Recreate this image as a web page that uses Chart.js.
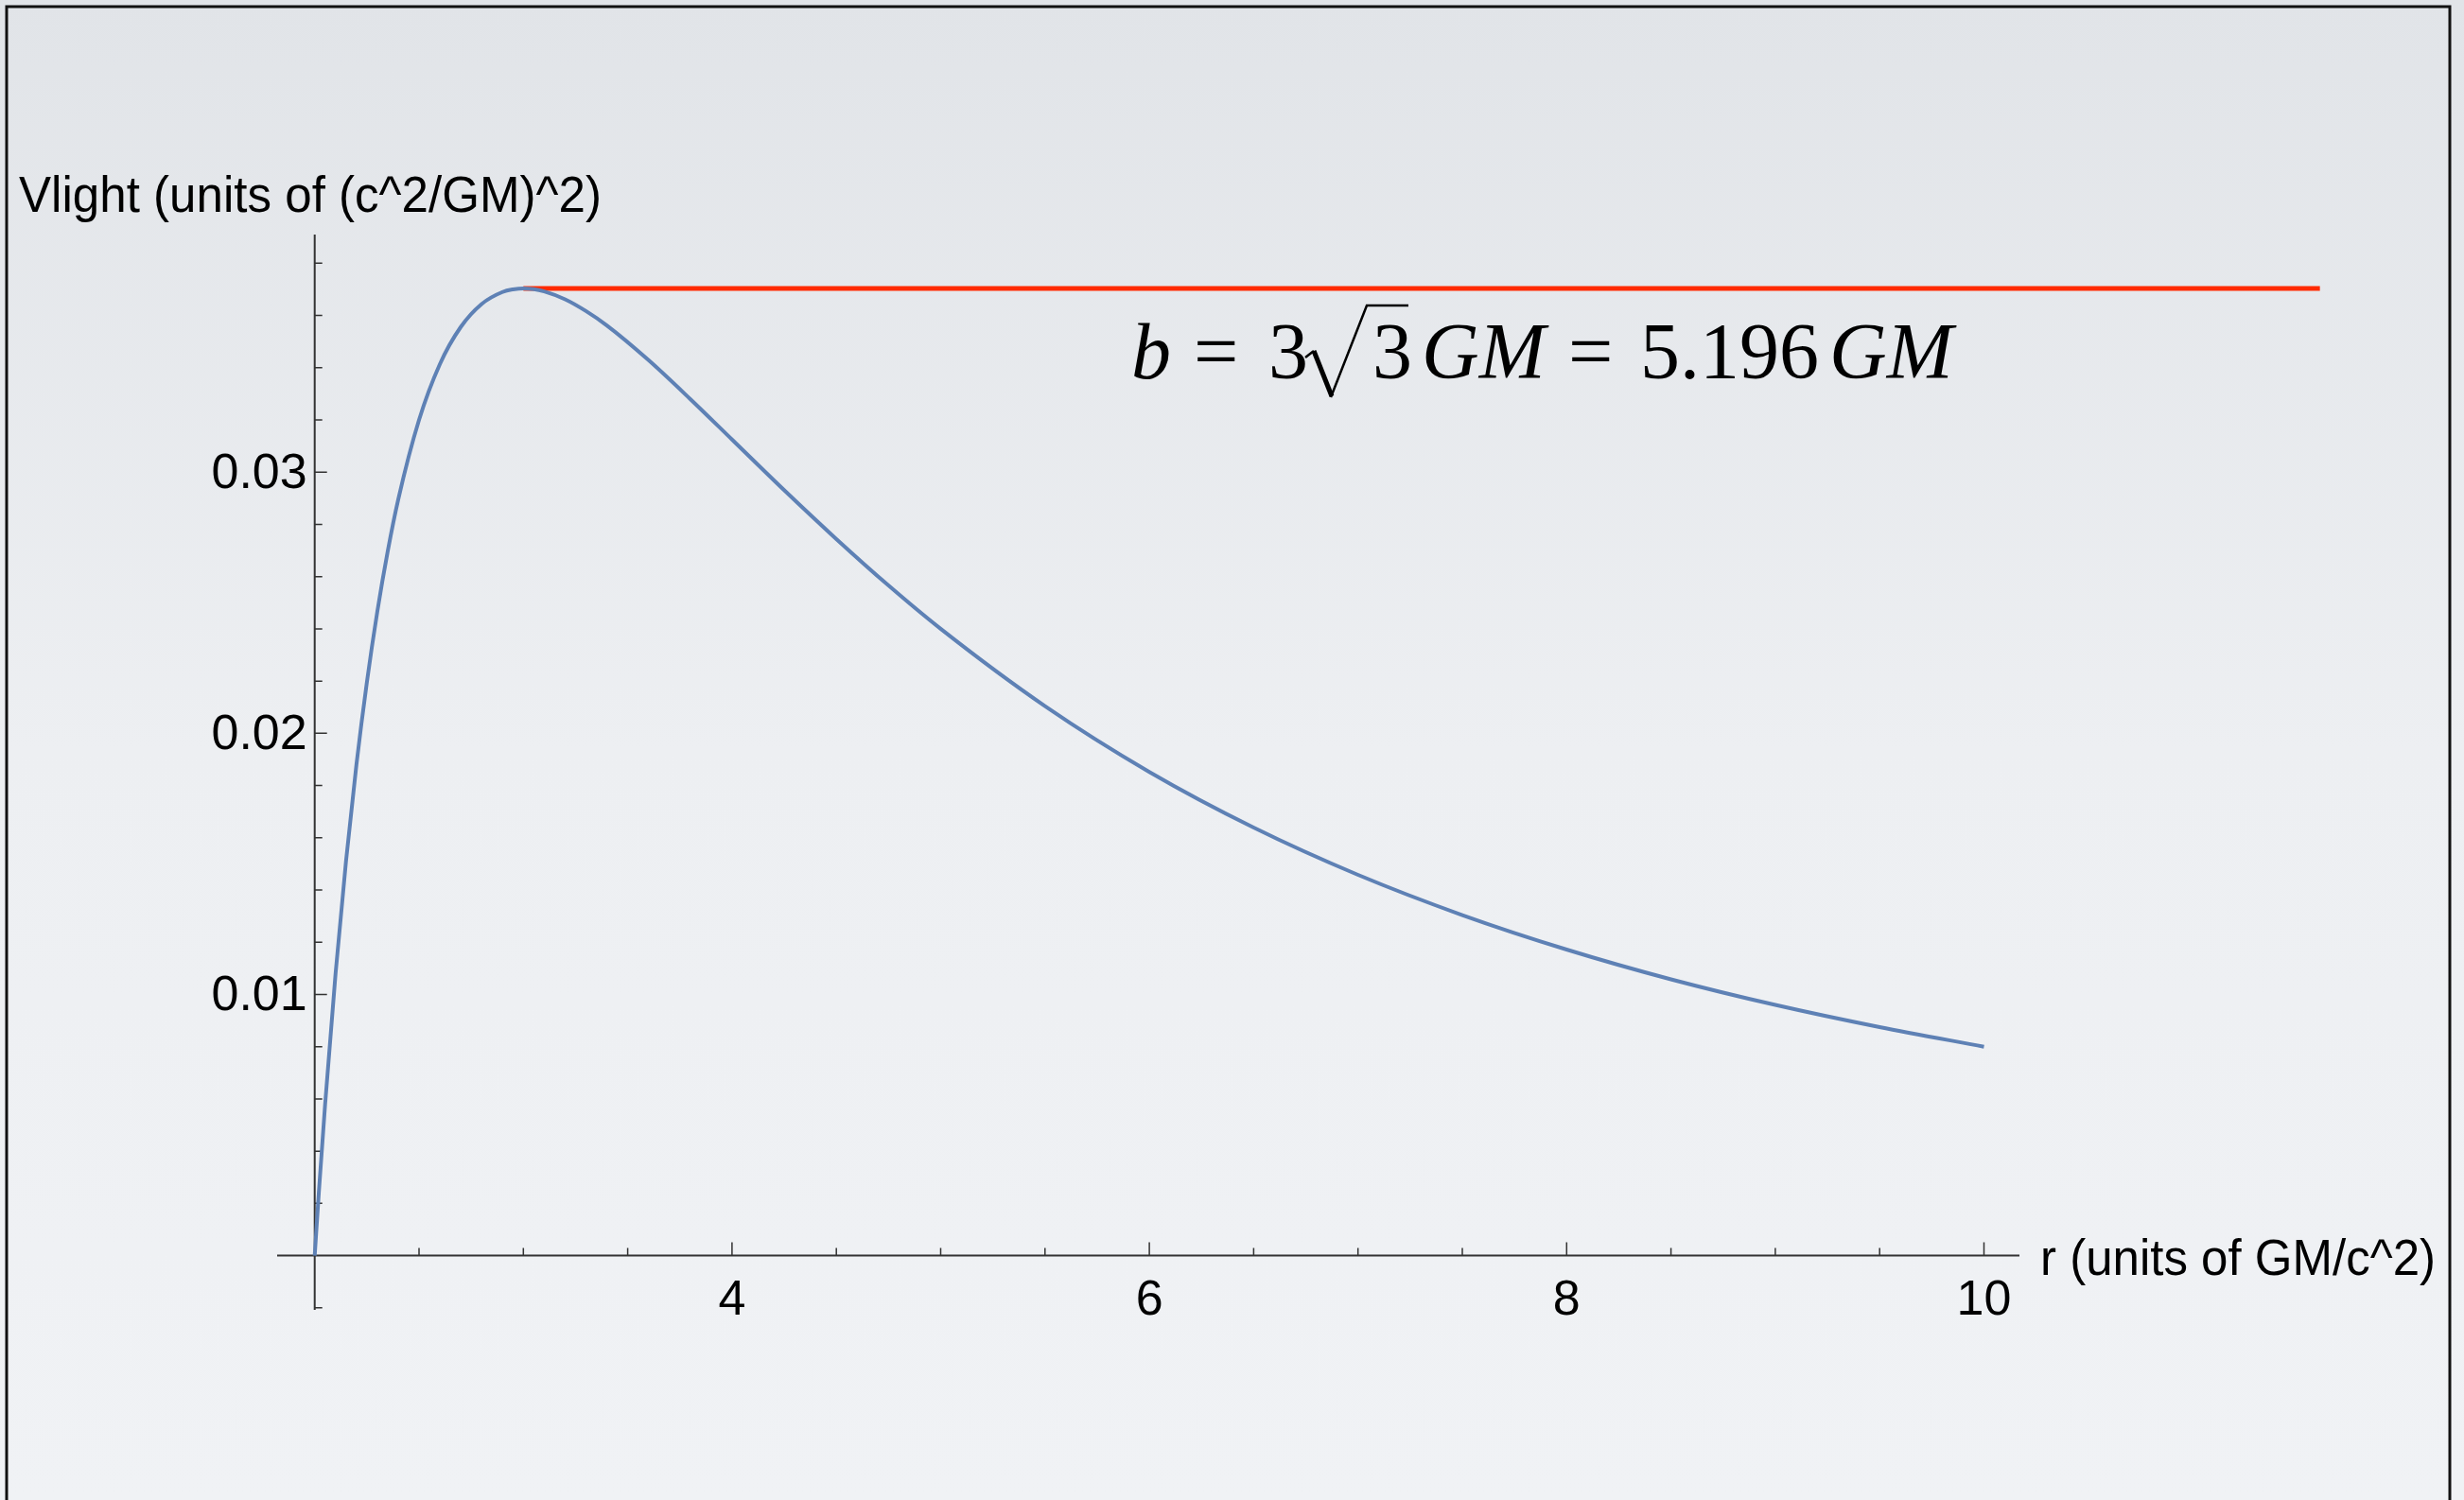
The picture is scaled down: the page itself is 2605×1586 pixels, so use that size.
<!DOCTYPE html>
<html>
<head>
<meta charset="utf-8">
<title>Vlight</title>
<script src="https://cdn.jsdelivr.net/npm/chart.js@4.4.1/dist/chart.umd.min.js"></script>
<style>
  html, body { margin: 0; padding: 0; overflow: hidden; background: #e9ecef; }
  canvas { display: block; }
</style>
</head>
<body>
<canvas id="vlightChart" width="2605" height="1586"></canvas>
<script>
// r values (units of GM/c^2) and Vlight
const rValues = [2.0, 2.02, 2.05, 2.1, 2.15, 2.2, 2.25, 2.3, 2.35, 2.4, 2.5, 2.6, 2.7, 2.8, 2.9, 2.95, 3.0, 3.05, 3.1,
    3.2, 3.3, 3.4, 3.6, 3.8, 4.0, 4.25, 4.5, 4.75, 5.0, 5.5, 6.0, 6.5, 7.0, 7.5, 8.0, 8.5, 9.0, 9.5, 10.0];
const vlightValues = [0, 0.00243, 0.0058, 0.0108, 0.0151, 0.0188, 0.02195, 0.02466, 0.02697, 0.02894, 0.032, 0.03414, 0.03556, 0.03644, 0.0369, 0.03700, 0.03704, 0.03701, 0.03692,
    0.03662, 0.03617, 0.03562, 0.03429, 0.0328, 0.03125, 0.02931, 0.02744, 0.02566, 0.024, 0.02104, 0.01852, 0.01639, 0.01458, 0.01304, 0.01172, 0.01058, 0.0096, 0.00875, 0.008];

// horizontal line at the maximum
const bLineR = [3.0, 11.61];
const bLineV = [0.03704, 0.03704];

// axis ticks
const xMajorTicks = [4, 6, 8, 10];
const xMinorTicks = [2.5, 3, 3.5, 4.5, 5, 5.5, 6.5, 7, 7.5, 8.5, 9, 9.5];
const yMajorTicks = [0.01, 0.02, 0.03];
const yMinorTicks = [-0.002, 0.002, 0.004, 0.006, 0.008, 0.012, 0.014, 0.016, 0.018,
    0.022, 0.024, 0.026, 0.028, 0.032, 0.034, 0.036, 0.038];
const xTickLabels = ["4", "6", "8", "10"];
const yTickLabels = ["0.01", "0.02", "0.03"];

const xAxisTitle = "r (units of GM/c^2)";
const yAxisTitle = "Vlight (units of (c^2/GM)^2)";

const sans = "'Liberation Sans', Arial, Helvetica, sans-serif";
const serif = "'Liberation Serif', 'Times New Roman', serif";

// draw text squeezed/stretched to a given width
function fitText(ctx, text, x, y, width) {
    const w = ctx.measureText(text).width;
    ctx.save();
    ctx.translate(x, y);
    ctx.scale(width / w, 1);
    ctx.fillText(text, 0, 0);
    ctx.restore();
}

const slidePlugin = {
    id: "slide",
    beforeDraw(chart) {
        const ctx = chart.ctx;
        const g = ctx.createLinearGradient(0, 0, 0, chart.height);
        g.addColorStop(0, "#e1e4e8");
        g.addColorStop(0.5, "#edeff2");
        g.addColorStop(1, "#f0f2f5");
        ctx.save();
        ctx.fillStyle = g;
        ctx.fillRect(0, 0, chart.width, chart.height);
        // slide frame
        ctx.strokeStyle = "#111";
        ctx.lineWidth = 3;
        ctx.beginPath();
        ctx.moveTo(7, chart.height + 10);
        ctx.lineTo(7, 7);
        ctx.lineTo(2590, 7);
        ctx.lineTo(2590, chart.height + 10);
        ctx.stroke();
        ctx.restore();
    },
    beforeDatasetsDraw(chart) {
        const ctx = chart.ctx;
        const xs = chart.scales.x;
        const ys = chart.scales.y;
        const x0 = xs.getPixelForValue(2);
        const y0 = ys.getPixelForValue(0);
        ctx.save();
        ctx.strokeStyle = "#333";
        ctx.lineWidth = 2;
        ctx.beginPath();
        // axes span the whole scale range
        ctx.moveTo(xs.left, y0);
        ctx.lineTo(xs.right, y0);
        ctx.moveTo(x0, ys.top);
        ctx.lineTo(x0, ys.bottom);
        ctx.stroke();

        ctx.lineWidth = 1.5;
        ctx.beginPath();
        xMajorTicks.forEach(v => {
            const p = xs.getPixelForValue(v);
            ctx.moveTo(p, y0);
            ctx.lineTo(p, y0 - 14);
        });
        xMinorTicks.forEach(v => {
            const p = xs.getPixelForValue(v);
            ctx.moveTo(p, y0);
            ctx.lineTo(p, y0 - 8);
        });
        yMajorTicks.forEach(v => {
            const p = ys.getPixelForValue(v);
            ctx.moveTo(x0, p);
            ctx.lineTo(x0 + 13, p);
        });
        yMinorTicks.forEach(v => {
            const p = ys.getPixelForValue(v);
            ctx.moveTo(x0, p);
            ctx.lineTo(x0 + 8, p);
        });
        ctx.stroke();

        // tick labels
        ctx.fillStyle = "#000";
        ctx.font = "52px " + sans;
        ctx.textAlign = "center";
        ctx.textBaseline = "alphabetic";
        xMajorTicks.forEach((v, i) => {
            ctx.fillText(xTickLabels[i], xs.getPixelForValue(v), y0 + 62);
        });
        ctx.textAlign = "right";
        ctx.textBaseline = "middle";
        yMajorTicks.forEach((v, i) => {
            ctx.fillText(yTickLabels[i], x0 - 8, ys.getPixelForValue(v) + 2);
        });

        // axis titles
        ctx.textAlign = "left";
        ctx.textBaseline = "alphabetic";
        ctx.font = "53px " + sans;
        fitText(ctx, yAxisTitle, 20, 224, 616);
        fitText(ctx, xAxisTitle, 2157, 1348, 418);
        ctx.restore();
    },
    afterDatasetsDraw(chart) {
        // b = 3 sqrt(3) GM = 5.196 GM
        const ctx = chart.ctx;
        const base = 400;
        ctx.save();
        ctx.fillStyle = "#000";
        ctx.textAlign = "left";
        ctx.textBaseline = "alphabetic";
        const it = "italic 84px " + serif;
        const rm = "84px " + serif;
        ctx.font = it; ctx.fillText("b", 1196, base);
        ctx.font = rm; ctx.fillText("=", 1262, base);
        ctx.fillText("3", 1341, base);
        ctx.fillText("3", 1451, base);
        ctx.font = it; ctx.fillText("GM", 1503, base);
        ctx.font = rm; ctx.fillText("=", 1658, base);
        ctx.fillText("5.196", 1734, base);
        ctx.font = it; ctx.fillText("GM", 1934, base);
        // radical sign
        ctx.strokeStyle = "#000";
        ctx.lineCap = "butt";
        ctx.lineWidth = 2.5;
        ctx.beginPath();
        ctx.moveTo(1380, 378);
        ctx.lineTo(1389, 371);
        ctx.stroke();
        ctx.lineWidth = 5;
        ctx.beginPath();
        ctx.moveTo(1389, 371);
        ctx.lineTo(1408, 419);
        ctx.stroke();
        ctx.lineWidth = 2.5;
        ctx.beginPath();
        ctx.moveTo(1407, 420);
        ctx.lineTo(1445, 323);
        ctx.lineTo(1489, 323);
        ctx.stroke();
        ctx.restore();
    }
};

const ctx = document.getElementById("vlightChart").getContext("2d");
new Chart(ctx, {
    type: "scatter",
    data: {
        datasets: [
            {
                label: "Vlight",
                data: rValues.map((r, i) => ({ x: r, y: vlightValues[i] })),
                showLine: true,
                borderColor: "#5e81b5",
                borderWidth: 4,
                pointRadius: 0,
                cubicInterpolationMode: "monotone",
                clip: false,
            },
            {
                label: "b",
                data: bLineR.map((r, i) => ({ x: r, y: bLineV[i] })),
                showLine: true,
                borderColor: "#ff2a00",
                borderWidth: 5,
                pointRadius: 0,
                clip: false,
            },
        ],
    },
    options: {
        responsive: false,
        devicePixelRatio: 1,
        animation: false,
        layout: {
            padding: { left: 293, right: 470, top: 248, bottom: 201 },
        },
        plugins: {
            legend: { display: false },
            tooltip: { enabled: false },
        },
        scales: {
            x: { type: "linear", min: 1.82, max: 10.17, display: false },
            y: { type: "linear", min: -0.00208, max: 0.0391, display: false },
        },
    },
    plugins: [slidePlugin],
});
</script>
</body>
</html>
